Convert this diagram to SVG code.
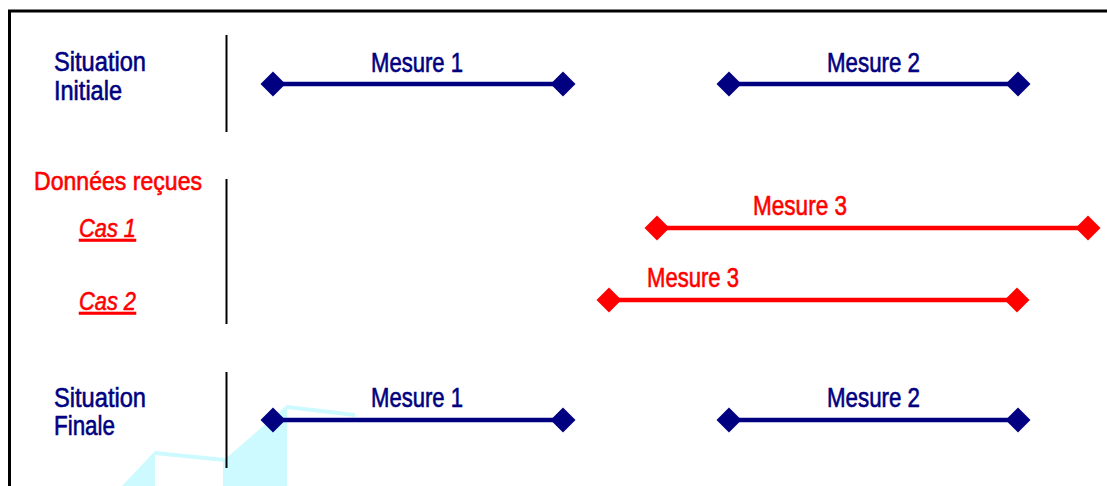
<svg xmlns="http://www.w3.org/2000/svg" width="1107" height="486" viewBox="0 0 1107 486">
  <style>
    .t { font-family: "Liberation Sans Narrow", "Arial Narrow", "Liberation Sans", Arial, sans-serif; font-size: 27px; stroke-width: 0.6px; }
    .blue { fill: #000080; stroke: #000080; }
    .red { fill: #ff0000; stroke: #ff0000; }
    .cas { font-style: italic; text-decoration: underline; font-size: 25px; }
    .dr { font-size: 25.5px; }
    .sep { stroke: #000; stroke-width: 2; fill: none; }
    .mb { stroke: #000080; stroke-width: 4.5; fill: none; marker-start: url(#dB); marker-end: url(#dB); }
    .mr { stroke: #ff0000; stroke-width: 4.5; fill: none; marker-start: url(#dR); marker-end: url(#dR); }
    .wash { fill: #ccfaff; }
  </style>
  <defs>
    <marker id="dB" viewBox="-13 -13 26 26" markerWidth="26" markerHeight="26" refX="0" refY="0" markerUnits="userSpaceOnUse" orient="0">
      <path d="M-12.5,0 L0,-12.5 L12.5,0 L0,12.5 Z" fill="#000080"/>
    </marker>
    <marker id="dR" viewBox="-13 -13 26 26" markerWidth="26" markerHeight="26" refX="0" refY="0" markerUnits="userSpaceOnUse" orient="0">
      <path d="M-12.5,0 L0,-12.5 L12.5,0 L0,12.5 Z" fill="#ff0000"/>
    </marker>
  </defs>

  <rect width="1107" height="486" fill="#fff"/>

  <!-- pale background wedges, lower left -->
  <g id="wash">
    <path class="wash" d="M122,486 L155,451 L155,486 Z"/>
    <path class="wash" d="M155,451 L225,458 L225,462 L155,455 Z"/>
    <path class="wash" d="M223,486 L223,461 L287,405 L287,486 Z"/>
    <path class="wash" d="M287,405 L355,413 L355,417 L287,409 Z"/>
  </g>

  <!-- frame -->
  <path d="M9.5,490 V11 H1110" stroke="#000" stroke-width="3" fill="none"/>

  <!-- row separators -->
  <g id="separators">
    <line class="sep" x1="226.5" y1="35" x2="226.5" y2="132"/>
    <line class="sep" x1="226.5" y1="179" x2="226.5" y2="324"/>
    <line class="sep" x1="226.5" y1="372" x2="226.5" y2="468"/>
  </g>

  <!-- row labels -->
  <g id="situation-initiale">
    <text class="t blue" x="54" y="71" textLength="92" lengthAdjust="spacingAndGlyphs">Situation</text>
    <text class="t blue" x="54" y="100" textLength="68" lengthAdjust="spacingAndGlyphs">Initiale</text>
  </g>
  <g id="donnees-recues">
    <text class="t red dr" x="34" y="190" textLength="168" lengthAdjust="spacingAndGlyphs">Données reçues</text>
  </g>
  <g id="cas-1">
    <text class="t red cas" x="79" y="237" textLength="57" lengthAdjust="spacingAndGlyphs">Cas 1</text>
  </g>
  <g id="cas-2">
    <text class="t red cas" x="79" y="310" textLength="57" lengthAdjust="spacingAndGlyphs">Cas 2</text>
  </g>
  <g id="situation-finale">
    <text class="t blue" x="54" y="407" textLength="92" lengthAdjust="spacingAndGlyphs">Situation</text>
    <text class="t blue" x="54" y="435" textLength="61" lengthAdjust="spacingAndGlyphs">Finale</text>
  </g>

  <!-- measure intervals -->
  <g id="connectors">
    <line class="mb" x1="273" y1="84" x2="563" y2="84"/>
    <line class="mb" x1="729" y1="84" x2="1018" y2="84"/>
    <line class="mr" x1="657" y1="228" x2="1088" y2="228"/>
    <line class="mr" x1="609" y1="300" x2="1017" y2="300"/>
    <line class="mb" x1="273" y1="420" x2="563" y2="420"/>
    <line class="mb" x1="729" y1="420" x2="1018" y2="420"/>
  </g>

  <!-- interval labels -->
  <g id="mesure-1-initiale"><text class="t blue" x="371" y="72" textLength="92" lengthAdjust="spacingAndGlyphs">Mesure 1</text></g>
  <g id="mesure-2-initiale"><text class="t blue" x="827" y="72" textLength="93" lengthAdjust="spacingAndGlyphs">Mesure 2</text></g>
  <g id="mesure-3-cas-1"><text class="t red" x="753" y="215" textLength="94" lengthAdjust="spacingAndGlyphs">Mesure 3</text></g>
  <g id="mesure-3-cas-2"><text class="t red" x="647" y="287" textLength="92" lengthAdjust="spacingAndGlyphs">Mesure 3</text></g>
  <g id="mesure-1-finale"><text class="t blue" x="371" y="407" textLength="92" lengthAdjust="spacingAndGlyphs">Mesure 1</text></g>
  <g id="mesure-2-finale"><text class="t blue" x="827" y="407" textLength="93" lengthAdjust="spacingAndGlyphs">Mesure 2</text></g>
</svg>
